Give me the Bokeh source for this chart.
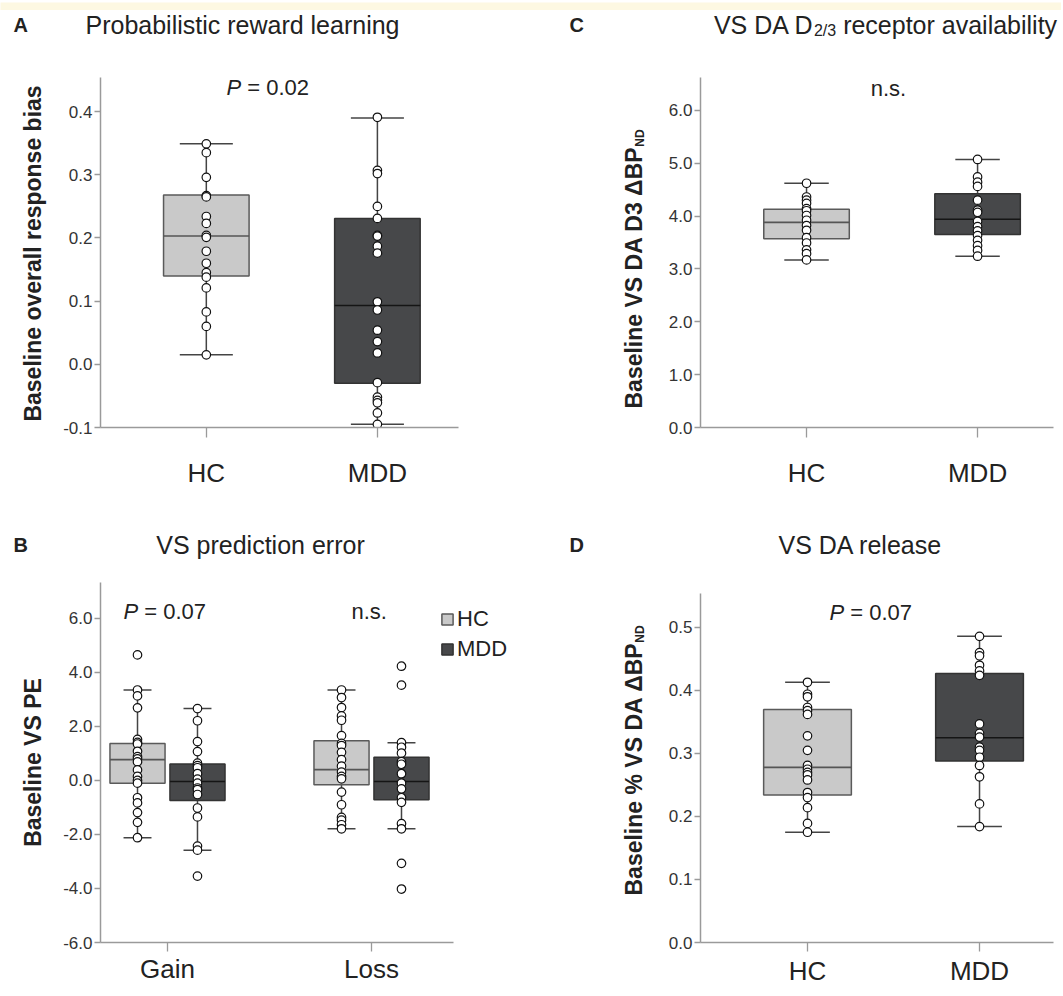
import math
from bokeh.plotting import figure
from bokeh.models import (ColumnDataSource, Label, FixedTicker, PrintfTickFormatter,
                          Legend, LegendItem, Range1d)
from bokeh.layouts import column, row
from bokeh.embed import file_html
from bokeh.resources import INLINE

FONT = "Liberation Sans"

# ---------------- data ----------------
groups = ["HC", "MDD"]
conditions = ["Gain", "Loss"]

# Panel A: baseline overall response bias
a_hc = [0.349, 0.335, 0.296, 0.267, 0.265, 0.234, 0.223, 0.204, 0.201, 0.179,
        0.160, 0.145, 0.138, 0.121, 0.083, 0.060, 0.015]
a_mdd = [0.391, 0.307, 0.302, 0.250, 0.231, 0.204, 0.203, 0.187, 0.176, 0.099,
         0.086, 0.054, 0.036, 0.018, -0.029, -0.052, -0.057, -0.061, -0.077, -0.095]
a_q1 = [0.140, -0.030]
a_med = [0.203, 0.093]
a_q3 = [0.268, 0.231]
a_lo = [0.015, -0.095]
a_hi = [0.349, 0.390]

# Panel C: VS DA D3 BPND
c_hc = [4.62, 4.36, 4.30, 4.24, 4.14, 4.10, 4.01, 3.92, 3.82, 3.73, 3.59, 3.49,
        3.36, 3.29, 3.17]
c_mdd = [5.07, 4.74, 4.64, 4.56, 4.30, 4.11, 4.07, 3.90, 3.80, 3.72, 3.63, 3.54,
         3.44, 3.35, 3.24]
c_q1 = [3.57, 3.65]
c_med = [3.88, 3.94]
c_q3 = [4.13, 4.42]
c_lo = [3.17, 3.24]
c_hi = [4.62, 5.07]

# Panel D: % VS DA release
d_hc = [0.413, 0.394, 0.390, 0.373, 0.368, 0.362, 0.328, 0.305, 0.281, 0.275,
        0.270, 0.266, 0.258, 0.238, 0.230, 0.214, 0.189, 0.175]
d_mdd = [0.486, 0.460, 0.455, 0.440, 0.431, 0.424, 0.347, 0.332, 0.326, 0.310,
         0.305, 0.294, 0.281, 0.263, 0.220, 0.184]
d_q1 = [0.234, 0.288]
d_med = [0.278, 0.325]
d_q3 = [0.370, 0.427]
d_lo = [0.175, 0.184]
d_hi = [0.413, 0.486]

# Panel B: VS prediction error (order: Gain HC, Gain MDD, Loss HC, Loss MDD)
b_gain_hc = [4.65, 3.35, 3.13, 2.69, 1.52, 1.41, 1.35, 1.08, 0.88, 0.80, 0.69, 0.39,
             0.15, 0.00, -0.10, -0.64, -0.83, -1.19, -1.55, -2.12]
b_gain_mdd = [2.66, 2.21, 1.44, 1.07, 0.64, 0.55, 0.47, 0.25, 0.05, -0.10, -0.28,
              -0.34, -0.52, -1.02, -1.35, -2.43, -2.58, -3.54]
b_loss_hc = [3.35, 3.07, 2.70, 2.39, 2.23, 1.66, 1.37, 1.29, 1.04, 0.77, 0.53, 0.31,
             0.15, 0.06, -0.43, -0.90, -1.37, -1.47, -1.64, -1.79]
b_loss_mdd = [4.23, 3.53, 1.40, 1.23, 1.01, 0.70, 0.60, 0.25, -0.10, -0.31, -0.64,
              -0.81, -1.60, -1.79, -3.07, -4.02]
b_q1 = [-0.10, -0.74, -0.16, -0.71]
b_med = [0.77, -0.04, 0.40, -0.04]
b_q3 = [1.37, 0.61, 1.47, 0.86]
b_lo = [-2.12, -2.58, -1.79, -1.79]
b_hi = [3.35, 2.66, 3.35, 1.40]

# ---------------- styles ----------------
HC_FILL, MDD_FILL = "#c9c9c9", "#47484a"
HC_LINE, MDD_LINE = "#5a5a5a", "#333333"
HC_MED, MDD_MED = "#555555", "#151515"
AXIS_COL = "#9a9a9a"
BAND = "#fdf8e2"

REG = {' ': .278, 'V': .667, 'S': .667, 'D': .722, 'A': .667, 'r': .333, 'e': .556,
       'c': .5, 'p': .556, 't': .278, 'o': .556, 'a': .556, 'v': .5, 'i': .222,
       'l': .222, 'b': .556, 'y': .5, 'P': .667, '=': .584, '0': .556, '.': .278,
       '2': .556, '7': .556, '/': .278, '3': .556, 'n': .556, 's': .5}
BOLD = {' ': .278, 'B': .722, 'a': .556, 's': .556, 'e': .556, 'l': .278, 'i': .278,
        'n': .611, 'V': .667, 'S': .667, 'D': .722, 'A': .722, '3': .556, 'Δ': .667,
        'P': .667, '%': .889, 'N': .722}


def tw(s, size, table):
    return sum(table.get(ch, 0.556) for ch in s) * size


def text_fig(w, h, bg="white"):
    """Blank figure used as a canvas for free text."""
    p = figure(width=w, height=h, x_range=Range1d(0, w), y_range=Range1d(0, h),
               output_backend="svg", toolbar_location=None, tools="",
               x_axis_type=None, y_axis_type=None,
               min_border_left=0, min_border_right=0, min_border_top=0,
               min_border_bottom=0)
    p.title.visible = False
    p.outline_line_color = None
    p.background_fill_color = bg
    p.border_fill_color = bg
    return p


def make_fig(w, h, bl, br, bt, bb, xr, yr, yticks, xticks, xlabels, xstand, xtick_out):
    p = figure(width=w, height=h, x_range=Range1d(*xr), y_range=Range1d(*yr),
               output_backend="svg", toolbar_location=None, tools="",
               min_border_left=bl, min_border_right=br, min_border_top=bt,
               min_border_bottom=bb)
    p.title.visible = False
    p.outline_line_color = None
    p.xgrid.visible = False
    p.ygrid.visible = False
    p.background_fill_color = "white"
    p.border_fill_color = "white"
    for ax in (p.xaxis[0], p.yaxis[0]):
        ax.axis_line_color = AXIS_COL
        ax.axis_line_width = 1.5
        ax.major_tick_line_color = AXIS_COL
        ax.major_tick_line_width = 1.3
        ax.minor_tick_line_color = None
        ax.major_tick_in = 0
        ax.major_label_text_font = FONT
    ya = p.yaxis[0]
    ya.ticker = FixedTicker(ticks=yticks)
    ya.formatter = PrintfTickFormatter(format="%.1f")
    ya.major_tick_out = 6
    ya.major_label_standoff = 2
    ya.major_label_text_font_size = "17px"
    ya.major_label_text_color = "#333333"
    xa = p.xaxis[0]
    xa.ticker = FixedTicker(ticks=xticks)
    xa.major_label_overrides = {t: l for t, l in zip(xticks, xlabels)}
    xa.major_tick_out = xtick_out
    xa.major_label_standoff = xstand
    xa.major_label_text_font_size = "26px"
    xa.major_label_text_color = "#222222"
    return p


def boxes(p, xs, q1, med, q3, lo, hi, width, cap, fills, lines, meds):
    src = ColumnDataSource(dict(x=xs, q1=q1, med=med, q3=q3, lo=lo, hi=hi,
                                fill=fills, line=lines, medc=meds,
                                l=[x - width / 2 for x in xs], r=[x + width / 2 for x in xs],
                                cl=[x - cap / 2 for x in xs], cr=[x + cap / 2 for x in xs]))
    p.segment(x0="x", y0="lo", x1="x", y1="hi", source=src, line_color="#444444",
              line_width=1.5)
    rb = p.vbar(x="x", width=width, bottom="q1", top="q3", source=src,
                fill_color="fill", line_color="line", line_width=1.5)
    p.segment(x0="l", y0="med", x1="r", y1="med", source=src, line_color="medc",
              line_width=1.6)
    p.segment(x0="cl", y0="lo", x1="cr", y1="lo", source=src, line_color="#444444",
              line_width=1.5)
    p.segment(x0="cl", y0="hi", x1="cr", y1="hi", source=src, line_color="#444444",
              line_width=1.5)
    return rb


def points(p, x, vals):
    p.scatter(x=[x] * len(vals), y=vals, size=8.5, marker="circle",
              fill_color="white", line_color="#111111", line_width=1.2)


def txt(p, org, x, y, text, size, style="normal", align="left",
        baseline="middle", angle=0.0, color="#222222"):
    p.add_layout(Label(x=x - org[0], y=y - org[1], x_units="canvas", y_units="canvas",
                       text=text, text_font=FONT, text_font_size=f"{size}px",
                       text_font_style=style, text_align=align,
                       text_baseline=baseline, angle=angle, text_color=color))


def pval(p, org, x, y, val, size=22):
    txt(p, org, x, y, "P", size, style="italic")
    txt(p, org, x + 0.667 * size + 0.278 * size, y, "= " + val, size)


def ylab_sub(p, org, x, y0, main, sub, size=23):
    txt(p, org, x, y0, main, size, style="bold", angle=math.pi / 2)
    txt(p, org, x + 6, y0 - tw(main, size, BOLD) - 1, sub, 12, style="bold",
        angle=math.pi / 2)


# ---------------- page band + header row 1 (titles A, C) ----------------
band = text_fig(1061, 10, bg=BAND)

oH1 = (0, 10)
h1 = text_fig(1061, 50)
txt(h1, oH1, 13, 24, "A", 20, style="bold")
txt(h1, oH1, 242, 24, "Probabilistic reward learning", 25, align="center")
txt(h1, oH1, 569, 24, "C", 20, style="bold")
t1, t2, t3 = "VS DA D", "2/3", " receptor availability"
wt = tw(t1, 25, REG) + tw(t2, 16, REG) + tw(t3, 25, REG)
xs0 = 885 - wt / 2
txt(h1, oH1, xs0, 24, t1, 25)
txt(h1, oH1, xs0 + tw(t1, 25, REG), 30, t2, 16)
txt(h1, oH1, xs0 + tw(t1, 25, REG) + tw(t2, 16, REG) + 0.278 * 25, 24, t3.strip(), 25)

# ---------------- row 2 (panels A, C) ----------------
oYA = (0, 60)
ylA = text_fig(60, 450)
txt(ylA, oYA, 32, 253, "Baseline overall response bias", 23, style="bold",
    align="center", angle=math.pi / 2)

oA = (60, 60)
pA = make_fig(488, 450, 36, 90, 17, 83, (0.3815, 2.474), (-0.1, 0.454),
              [-0.1, 0.0, 0.1, 0.2, 0.3, 0.4], [1, 2], groups, 20, 10)
boxes(pA, [1, 2], a_q1, a_med, a_q3, a_lo, a_hi, 0.5, 0.31,
      [HC_FILL, MDD_FILL], [HC_LINE, MDD_LINE], [HC_MED, MDD_MED])
points(pA, 1, a_hc)
points(pA, 2, a_mdd)
pval(pA, oA, 226, 87, "0.02")

oYC = (548, 60)
ylC = text_fig(112, 450)
ylab_sub(ylC, oYC, 633, 408, "Baseline VS DA D3 ΔBP", "ND")

oC = (660, 60)
pC = make_fig(401, 450, 40, 8, 17, 83, (0.380, 2.444), (0.0, 6.62),
              [0.0, 1.0, 2.0, 3.0, 4.0, 5.0, 6.0], [1, 2], groups, 20, 10)
boxes(pC, [1, 2], c_q1, c_med, c_q3, c_lo, c_hi, 0.5, 0.26,
      [HC_FILL, MDD_FILL], [HC_LINE, MDD_LINE], [HC_MED, MDD_MED])
points(pC, 1, c_hc)
points(pC, 2, c_mdd)
txt(pC, oC, 888, 88, "n.s.", 22, align="center")

# ---------------- header row 3 (titles B, D) ----------------
oH3 = (0, 510)
h3 = text_fig(1061, 65)
txt(h3, oH3, 13, 544, "B", 20, style="bold")
txt(h3, oH3, 260, 544, "VS prediction error", 25, align="center")
txt(h3, oH3, 569, 544, "D", 20, style="bold")
txt(h3, oH3, 860, 544, "VS DA release", 25, align="center")

# ---------------- row 4 (panels B, D) ----------------
oYB = (0, 575)
ylB = text_fig(60, 419)
txt(ylB, oYB, 32, 762, "Baseline VS PE", 23, style="bold", align="center",
    angle=math.pi / 2)

oB = (60, 575)
# frame runs to the right edge so the legend fits; the axis line is bounded
pB = make_fig(488, 419, 40, 0, 7, 52, (0.6716, 2.8676), (-6.0, 7.33),
              [-6.0, -4.0, -2.0, 0.0, 2.0, 4.0, 6.0], [1, 2], conditions, 2, 9)
pB.xaxis[0].bounds = (0.6716, 2.402)
off = 0.147
rbB = boxes(pB, [1 - off, 1 + off, 2 - off, 2 + off], b_q1, b_med, b_q3, b_lo, b_hi,
            0.27, 0.137, [HC_FILL, MDD_FILL, HC_FILL, MDD_FILL],
            [HC_LINE, MDD_LINE, HC_LINE, MDD_LINE], [HC_MED, MDD_MED, HC_MED, MDD_MED])
points(pB, 1 - off, b_gain_hc)
points(pB, 1 + off, b_gain_mdd)
points(pB, 2 - off, b_loss_hc)
points(pB, 2 + off, b_loss_mdd)
pval(pB, oB, 123, 611, "0.07")
txt(pB, oB, 351, 611, "n.s.", 22)
leg = Legend(items=[LegendItem(label=groups[0], renderers=[rbB], index=0),
                    LegendItem(label=groups[1], renderers=[rbB], index=1)],
             location=(340, 280), padding=0, margin=0, spacing=4,
             glyph_width=14, glyph_height=14, label_standoff=3, label_height=26,
             label_text_font=FONT, label_text_font_size="22px",
             label_text_color="#222222", border_line_color=None,
             background_fill_alpha=0)
pB.add_layout(leg)

oYD = (548, 575)
ylD = text_fig(112, 419)
ylab_sub(ylD, oYD, 633, 895, "Baseline % VS DA ΔBP", "ND")

oD = (660, 575)
pD = make_fig(401, 419, 40, 8, 7, 52, (0.378, 2.430), (0.0, 0.5714),
              [0.0, 0.1, 0.2, 0.3, 0.4, 0.5], [1, 2], groups, 4, 9)
pD.yaxis[0].bounds = (0.0, 0.554)
boxes(pD, [1, 2], d_q1, d_med, d_q3, d_lo, d_hi, 0.51, 0.26,
      [HC_FILL, MDD_FILL], [HC_LINE, MDD_LINE], [HC_MED, MDD_MED])
points(pD, 1, d_hc)
points(pD, 2, d_mdd)
pval(pD, oD, 829, 612, "0.07")

layout = column(band, h1, row(ylA, pA, ylC, pC), h3, row(ylB, pB, ylD, pD))
open("out.html", "w").write(file_html(layout, INLINE))
